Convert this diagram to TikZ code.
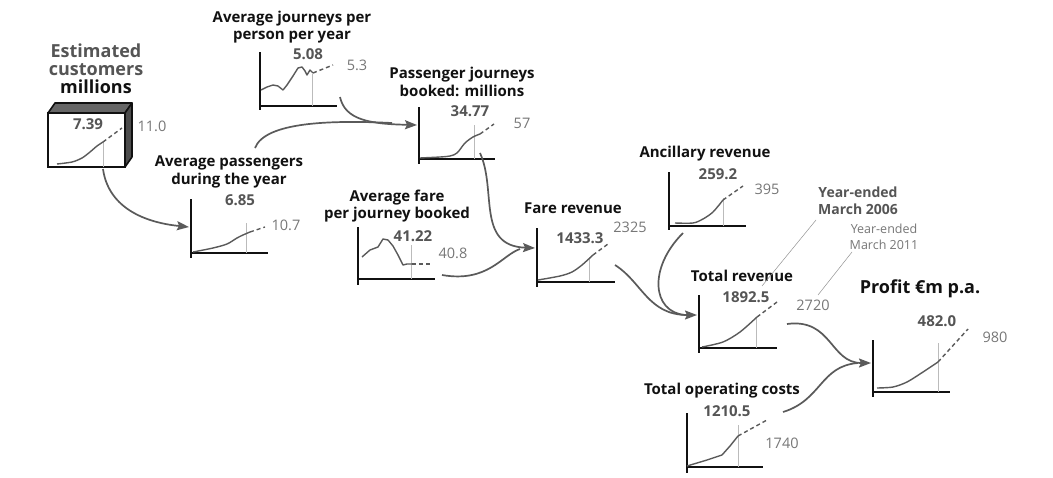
\documentclass[tikz,border=0pt]{standalone}
\usepackage{fontspec}
\setmainfont{Open Sans}
\usetikzlibrary{arrows.meta}
\definecolor{ink}{HTML}{111111}
\definecolor{valg}{HTML}{555555}
\definecolor{futg}{HTML}{777777}
\definecolor{lineg}{HTML}{5A5A5A}
\definecolor{markg}{HTML}{BBBBBB}
\tikzset{
  ttl/.style={anchor=base,inner sep=0pt,text=ink,font=\bfseries\fontsize{15}{17}\selectfont},
  bigttl/.style={anchor=base,inner sep=0pt,font=\bfseries\fontsize{18}{20}\selectfont},
  v6/.style={anchor=base,inner sep=0pt,text=valg,font=\bfseries\fontsize{15}{17}\selectfont},
  v11/.style={anchor=base,inner sep=0pt,text=futg,font=\fontsize{14.5}{17}\selectfont},
  axisline/.style={line width=2pt,draw=ink},
  curveline/.style={line width=1.4pt,draw=lineg,line join=round},
  futline/.style={line width=1.4pt,draw=lineg,dash pattern=on 4pt off 3pt},
  markline/.style={line width=0.6pt,draw=markg},
  conn/.style={line width=1.7pt,draw=lineg,-{Stealth[length=12pt,width=9pt,inset=2pt]}},
  connplain/.style={line width=1.7pt,draw=lineg},
  leader/.style={line width=0.5pt,draw=futg!80}
}
\begin{document}
\begin{tikzpicture}[x=1pt,y=-1pt]
\useasboundingbox (0,0) rectangle (1053,477);
\fill[white] (0,0) rectangle (1053,477);

% ---------- Estimated customers (3D box) ----------
\node[bigttl,text=valg] (t1a) at (96,57) {Estimated};
\node[bigttl,text=valg] (t1b) at (96,75) {customers};
\node[bigttl,text=ink] (t1c) at (96,93) {millions};
\filldraw[fill=black!60,draw=ink,line width=1.6pt,line join=round] (48,113) -- (55,103) -- (132,103) -- (125,113) -- cycle;
\filldraw[fill=black!70,draw=ink,line width=1.6pt,line join=round] (125,113) -- (132,103) -- (132,157) -- (125,167) -- cycle;
\draw[ink,line width=2.2pt,fill=white] (48,113) rectangle (125,167);
\draw[markline] (103,142) -- (103,167);
\draw[curveline] plot[smooth] coordinates {(57,164) (72,162) (82,158) (90,152) (97,146) (103,142)};
\draw[futline] (103,142) -- (122,128);
\node[v6] (v1a) at (88,129) {7.39};
\node[v11] (v1b) at (152,131) {11.0};
\coordinate (c1out) at (103,169);

% ---------- Average journeys per person per year ----------
\node[ttl] (t2a) at (292,22) {Average journeys per};
\node[ttl] (t2b) at (292,39) {person per year};
\draw[axisline] (260,52) -- (260,110);
\draw[axisline] (259,106) -- (337,106);
\draw[markline] (312,74) -- (312,106);
\draw[curveline] plot coordinates {(261,90) (267,87) (273,85) (278,86) (283,90) (287,85) (293,76) (298,68) (302,67) (305,71) (307,75) (310,70) (313,73)};
\draw[futline] (313,73) -- (333,65);
\node[v6] (v2a) at (308,59) {5.08};
\node[v11] (v2b) at (357,70) {5.3};
\coordinate (c2out) at (340,97);

% ---------- Average passengers during the year ----------
\node[ttl] (t4a) at (229,166) {Average passengers};
\node[ttl] (t4b) at (229,184) {during the year};
\draw[axisline] (191,199) -- (191,258);
\draw[axisline] (190,253) -- (268,253);
\draw[markline] (246,223) -- (246,253);
\draw[curveline] plot[smooth] coordinates {(193,252) (213,248) (227,244) (237,238) (243,235) (250,232)};
\draw[futline] (250,232) -- (265,227);
\node[v6] (v4a) at (240,205) {6.85};
\node[v11] (v4b) at (286,230) {10.7};
\coordinate (c4in) at (189,227);
\coordinate (c4out) at (255,148);

% ---------- Passenger journeys booked ----------
\node[ttl] (t3a) at (462,78) {Passenger journeys};
\node[ttl] (t3b) at (462,96) {booked: millions};
\draw[axisline] (419,107) -- (419,164);
\draw[axisline] (418,159) -- (495,159);
\draw[markline] (474,125) -- (474,159);
\draw[curveline] plot[smooth] coordinates {(420,158) (440,157) (450,156) (457,153) (465,143) (473,137) (480,134)};
\draw[futline] (480,134) -- (494,124);
\node[v6] (v3a) at (470,116) {34.77};
\node[v11] (v3b) at (522,128) {57};
\coordinate (c3in) at (417,125);
\coordinate (c3out) at (480,153);

% ---------- Average fare per journey booked ----------
\node[ttl] (t5a) at (397,201) {Average fare};
\node[ttl] (t5b) at (397,218) {per journey booked};
\draw[axisline] (358,227) -- (358,285);
\draw[axisline] (357,279) -- (435,279);
\draw[markline] (411,245) -- (411,279);
\draw[curveline] plot coordinates {(362,257) (370,250) (378,247) (383,239) (388,240) (393,246) (398,255) (401,261) (403,265) (407,264) (412,264)};
\draw[futline] (412,264) -- (432,264);
\node[v6] (v5a) at (413,241) {41.22};
\node[v11] (v5b) at (453,258) {40.8};
\coordinate (c5out) at (442,275);

% ---------- Fare revenue ----------
\node[ttl] (t6) at (573,213) {Fare revenue};
\draw[axisline] (537,228) -- (537,287);
\draw[axisline] (536,282) -- (615,282);
\draw[markline] (589,257) -- (589,282);
\draw[curveline] plot[smooth] coordinates {(538,280) (560,276) (572,272) (582,265) (593,255)};
\draw[futline] (593,255) -- (608,244);
\node[v6] (v6a) at (580,243) {1433.3};
\node[v11] (v6b) at (630,232) {2325};
\coordinate (c6in) at (535,248);
\coordinate (c6out) at (615,265);

% ---------- Ancillary revenue ----------
\node[ttl] (t7) at (705,157) {Ancillary revenue};
\draw[axisline] (669,172) -- (669,230);
\draw[axisline] (668,226) -- (746,226);
\draw[markline] (723,198) -- (723,226);
\draw[curveline] plot[smooth] coordinates {(675,223) (693,223) (703,219) (713,212) (723,200)};
\draw[futline] (723,200) -- (743,186);
\node[v6] (v7a) at (718,179) {259.2};
\node[v11] (v7b) at (767,194) {395};
\coordinate (c7out) at (683,233);

% ---------- Total revenue ----------
\node[ttl] (t8) at (742,281) {Total revenue};
\draw[axisline] (699,295) -- (699,353);
\draw[axisline] (698,348) -- (777,348);
\draw[markline] (756,317) -- (756,348);
\draw[curveline] plot[smooth] coordinates {(702,347) (723,342) (740,332) (757,317)};
\draw[futline] (757,317) -- (777,302);
\node[v6] (v8a) at (746,302) {1892.5};
\node[v11] (v8b) at (813,310) {2720};
\coordinate (c8in) at (697,315);
\coordinate (c8out) at (787,324);

% ---------- Year-ended labels ----------
\node[anchor=base,inner sep=0pt,text=valg,font=\bfseries\fontsize{14}{16}\selectfont] (y6a) at (858,197) {Year-ended};
\node[anchor=base,inner sep=0pt,text=valg,font=\bfseries\fontsize{14}{16}\selectfont] (y6b) at (858,214) {March 2006};
\node[anchor=base,inner sep=0pt,text=futg,font=\fontsize{12.5}{14}\selectfont] (y11a) at (884,233) {Year-ended};
\node[anchor=base,inner sep=0pt,text=futg,font=\fontsize{12.5}{14}\selectfont] (y11b) at (884,249) {March 2011};
\coordinate (l6a) at (816,220);
\coordinate (l6b) at (762,286);
\coordinate (l11a) at (852,252);
\coordinate (l11b) at (818,295);
\draw[leader] (l6a) -- (l6b);
\draw[leader] (l11a) -- (l11b);

% ---------- Total operating costs ----------
\node[ttl] (t10) at (722,394) {Total operating costs};
\draw[axisline] (687,413) -- (687,473);
\draw[axisline] (686,467) -- (763,467);
\draw[markline] (738,425) -- (738,467);
\draw[curveline] plot coordinates {(687,466) (707,460) (722,455) (730,446) (738,436)};
\draw[futline] (738,436) -- (767,420);
\node[v6] (v10a) at (727,416) {1210.5};
\node[v11] (v10b) at (782,448) {1740};
\coordinate (c10out) at (783,412);

% ---------- Profit ----------
\node[bigttl,text=ink] (t9) at (920,293) {Profit €m p.a.};
\draw[axisline] (873,340) -- (873,397);
\draw[axisline] (872,392) -- (950,392);
\draw[markline] (938,343) -- (938,392);
\draw[curveline] plot[smooth] coordinates {(877,388) (893,387) (907,382) (923,372) (938,362)};
\draw[futline] (938,362) -- (968,329);
\node[v6] (v9a) at (937,326) {482.0};
\node[v11] (v9b) at (995,342) {980};
\coordinate (c9in) at (871,363);

% ---------- Connectors ----------
\draw[conn] (c1out) .. controls (108,205) and (140,222) .. (c4in);
\draw[connplain] (c4out) .. controls (265,122) and (330,120) .. (392,123);
\draw[conn] (c2out) .. controls (345,120) and (370,124) .. (c3in);
\draw[conn] (c3out) .. controls (497,190) and (476,246) .. (c6in);
\draw[connplain] (c5out) .. controls (488,283) and (502,255) .. (520,249);
\draw[conn] (c6out) .. controls (642,282) and (648,315) .. (c8in);
\draw[connplain] (c7out) .. controls (648,268) and (652,312) .. (685,315);
\draw[conn] (c8out) .. controls (832,318) and (830,363) .. (c9in);
\draw[connplain] (c10out) .. controls (822,400) and (820,366) .. (858,363);
\end{tikzpicture}
\end{document}
